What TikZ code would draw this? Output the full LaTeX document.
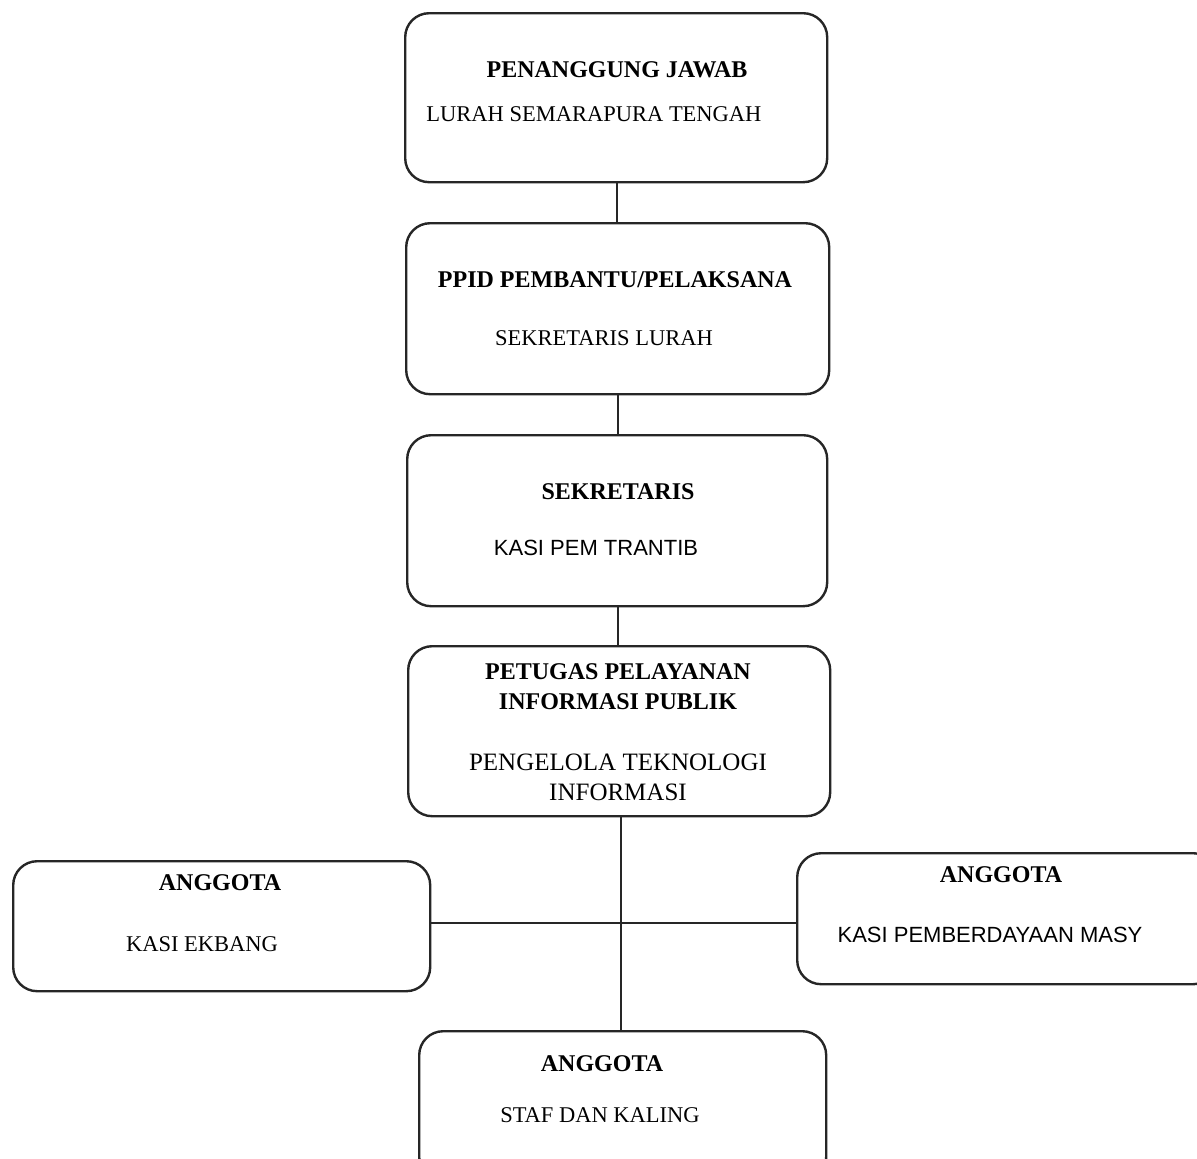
\documentclass[tikz,border=0pt]{standalone}
\usepackage{fontspec}
\setmainfont{Liberation Serif}
\newfontfamily\sansf{Liberation Sans}
\begin{document}
\begin{tikzpicture}[x=1pt,y=-1pt,
  box/.style={draw=black!85, line width=2.4pt, rounded corners=24pt},
  conn/.style={draw=black!85, line width=2.2pt},
  ttl/.style={font=\fontsize{24}{30}\selectfont\bfseries, inner sep=0pt, align=center},
  sub/.style={font=\fontsize{22.5}{29}\selectfont, inner sep=0pt, align=center},
  subs/.style={font=\sansf\fontsize{22}{26}\selectfont, inner sep=0pt, align=center}]
\useasboundingbox (0,0) rectangle (1197,1159);
\clip (0,0) rectangle (1197,1159);
% boxes
\node[box, minimum width=422pt, minimum height=169pt, anchor=north west] (b1) at (404,12) {};
\node[box, minimum width=423pt, minimum height=171pt, anchor=north west] (b2) at (405,222) {};
\node[box, minimum width=420pt, minimum height=171pt, anchor=north west] (b3) at (406,434) {};
\node[box, minimum width=422pt, minimum height=170pt, anchor=north west] (b4) at (407,645) {};
\node[box, minimum width=417pt, minimum height=130pt, anchor=north west] (b5) at (12,860) {};
\node[box, minimum width=420pt, minimum height=131pt, anchor=north west] (b6) at (796,852) {};
\node[box, minimum width=407pt, minimum height=150pt, anchor=north west] (b7) at (418,1030) {};
% texts
\node[ttl] (t1) at (617,70) {PENANGGUNG JAWAB};
\node[sub] (s1) at (594,114) {LURAH SEMARAPURA TENGAH};
\node[ttl] (t2) at (615,280) {PPID PEMBANTU/PELAKSANA};
\node[sub] (s2) at (604,338) {SEKRETARIS LURAH};
\node[ttl] (t3) at (618,492) {SEKRETARIS};
\node[subs] (s3) at (596,548) {KASI PEM TRANTIB};
\node[ttl] (t4) at (618,687) {PETUGAS PELAYANAN\\INFORMASI PUBLIK};
\node[font=\fontsize{25}{30}\selectfont, inner sep=0pt, align=center] (s4) at (618,777) {PENGELOLA TEKNOLOGI\\INFORMASI};
\node[ttl] (t5) at (220,883) {ANGGOTA};
\node[sub] (s5) at (202,944) {KASI EKBANG};
\node[ttl] (t6) at (1001,875) {ANGGOTA};
\node[subs] (s6) at (990,935) {KASI PEMBERDAYAAN MASY};
\node[ttl] (t7) at (602,1064) {ANGGOTA};
\node[sub] (s7) at (600,1115) {STAF DAN KALING};
% connectors
\draw[conn] (b1.south) ++(1,0) coordinate (c1a) -- (c1a |- b2.north);
\draw[conn] (b2.south) ++(0.5,0) coordinate (c2a) -- (c2a |- b3.north);
\draw[conn] (b3.south) ++(1,0) coordinate (c3a) -- (c3a |- b4.north);
\draw[conn] (b4.south) ++(2,0) coordinate (c4a) -- (c4a |- b7.north);
\draw[conn] (b5.east) ++(0,-3) coordinate (c5a) -- (b6.west |- c5a);
\end{tikzpicture}
\end{document}
